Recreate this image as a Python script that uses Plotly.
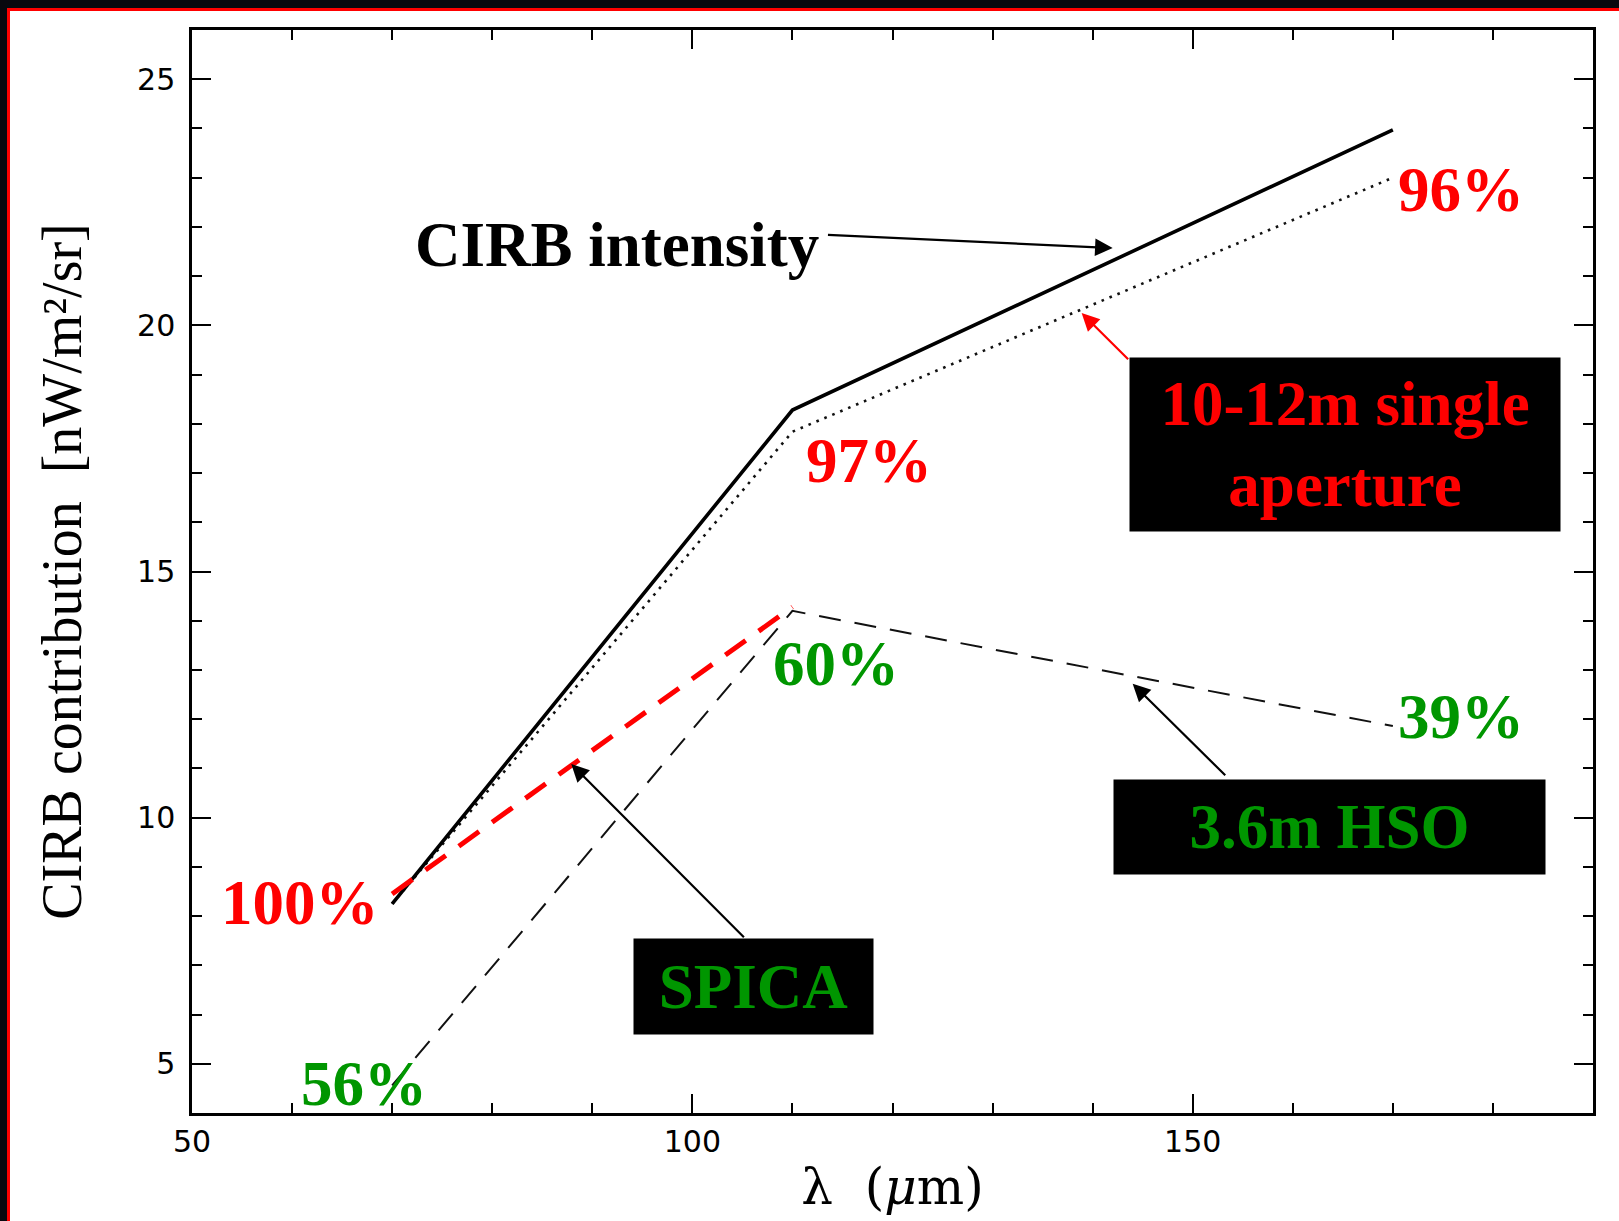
import plotly.graph_objects as go

# CIRB intensity and fraction resolved by each facility, versus wavelength
wavelength = [70, 110, 170]
cirb_intensity = [8.25, 18.28, 23.97]
single_aperture = [8.25, 17.84, 23.0]
hso = [4.56, 14.2, 11.86]
spica_wavelength = [70, 110]
spica = [8.45, 14.28]

# percentage labels: (text, x, y, colour)
pct_labels = [
    ("96%", 176.8, 22.75, "red"),
    ("97%", 117.7, 17.25, "red"),
    ("100%", 60.8, 8.27, "red"),
    ("60%", 114.4, 13.12, "green"),
    ("39%", 176.8, 12.05, "green"),
    ("56%", 67.2, 4.59, "green"),
]

RED = "#ff0000"
GREEN = "#009600"
SERIF = "Liberation Serif"

fig = go.Figure()

fig.add_trace(go.Scatter(x=wavelength, y=hso, mode="lines",
                         line=dict(color="#111111", width=2, dash="22px,14px"),
                         name="3.6m HSO"))
fig.add_trace(go.Scatter(x=wavelength, y=single_aperture, mode="lines",
                         line=dict(color="#111111", width=2.6, dash="2.6px,6px"),
                         name="10-12m single aperture"))
fig.add_trace(go.Scatter(x=wavelength, y=cirb_intensity, mode="lines",
                         line=dict(color="black", width=3.6),
                         name="CIRB intensity"))
fig.add_trace(go.Scatter(x=spica_wavelength, y=spica, mode="lines",
                         line=dict(color=RED, width=5, dash="25px,16px"),
                         name="SPICA"))

annotations = []
for text, x, y, col in pct_labels:
    annotations.append(dict(
        x=x, y=y, xref="x", yref="y", text=f"<b>{text}</b>", showarrow=False,
        xanchor="center", yanchor="middle",
        font=dict(family=SERIF, size=63, color=RED if col == "red" else GREEN)))

# CIRB intensity label and its pointer
annotations.append(dict(x=92.5, y=21.63, xref="x", yref="y", text="<b>CIRB intensity</b>",
                        showarrow=False, xanchor="center", yanchor="middle",
                        font=dict(family=SERIF, size=63, color="black")))
annotations.append(dict(x=142.0, y=21.57, ax=113.4, ay=21.84, xref="x", yref="y",
                        axref="x", ayref="y", text="", showarrow=True,
                        arrowhead=2, arrowsize=1.6, arrowwidth=2.2, arrowcolor="black"))

# boxed instrument labels
boxes = [
    ("<b>10-12m single<br>aperture</b>", 165.2, 17.58, 430, 173, RED),
    ("<b>3.6m HSO</b>", 163.7, 9.81, 431, 94, GREEN),
    ("<b>SPICA</b>", 106.1, 6.57, 239, 95, GREEN),
]
for text, x, y, w, h, col in boxes:
    annotations.append(dict(x=x, y=y, xref="x", yref="y", text=text, showarrow=False,
                            xanchor="center", yanchor="middle", width=w, height=h,
                            bgcolor="black", borderpad=0, align="center", valign="middle",
                            font=dict(family=SERIF, size=63, color=col)))

# pointers from boxes to curves: (head x, head y, tail x, tail y, colour)
pointers = [
    (138.9, 20.25, 143.7, 19.28, RED),
    (144.0, 12.72, 153.4, 10.83, "black"),
    (87.9, 11.09, 105.3, 7.54, "black"),
]
for hx, hy, tx, ty, col in pointers:
    annotations.append(dict(x=hx, y=hy, ax=tx, ay=ty, xref="x", yref="y",
                            axref="x", ayref="y", text="", showarrow=True,
                            arrowhead=2, arrowsize=1.6, arrowwidth=2.2, arrowcolor=col))

# dark strip with red rule along the top and left edges of the page
X0, X1 = -192 / 1401, 1427 / 1401
Y0, Y1 = -108 / 1083, 1113 / 1083
shapes = [
    dict(type="rect", xref="paper", yref="paper", x0=X0, x1=X1, y0=1102 / 1083, y1=Y1,
         fillcolor="#08080e", line=dict(width=0)),
    dict(type="rect", xref="paper", yref="paper", x0=X0, x1=-185 / 1401, y0=Y0, y1=Y1,
         fillcolor="#08080e", line=dict(width=0)),
    dict(type="rect", xref="paper", yref="paper", x0=-185 / 1401, x1=X1,
         y0=1102 / 1083, y1=1105 / 1083, fillcolor="#ff0000", line=dict(width=0)),
    dict(type="rect", xref="paper", yref="paper", x0=-185 / 1401, x1=-182 / 1401,
         y0=Y0, y1=1105 / 1083, fillcolor="#ff0000", line=dict(width=0)),
]

axis_common = dict(
    showline=True, linewidth=2.5, linecolor="black", mirror="allticks",
    ticks="inside", ticklen=19, tickwidth=2, tickcolor="black",
    showgrid=False, zeroline=False,
    tickfont=dict(family="DejaVu Sans", size=30, color="black"),
)

fig.update_layout(
    width=1619, height=1221, autosize=False,
    margin=dict(l=192, r=26, t=30, b=108),
    paper_bgcolor="white", plot_bgcolor="white",
    showlegend=False,
    annotations=annotations,
    shapes=shapes,
    xaxis=dict(
        range=[50, 190], tick0=50, dtick=50,
        minor=dict(dtick=10, tick0=50, ticks="inside", ticklen=10, tickwidth=2,
                   tickcolor="black", showgrid=False),
        title=dict(text="λ  (<i>μ</i>m)", standoff=12,
                   font=dict(family="DejaVu Serif", size=50, color="black")),
        **axis_common,
    ),
    yaxis=dict(
        range=[4, 26], tick0=0, dtick=5, ticklabelstandoff=8,
        minor=dict(dtick=1, tick0=0, ticks="inside", ticklen=10, tickwidth=2,
                   tickcolor="black", showgrid=False),
        title=dict(text="CIRB contribution  [nW/m²/sr]", standoff=38,
                   font=dict(family=SERIF, size=56, color="black")),
        **axis_common,
    ),
)

fig.write_html("out.html")
